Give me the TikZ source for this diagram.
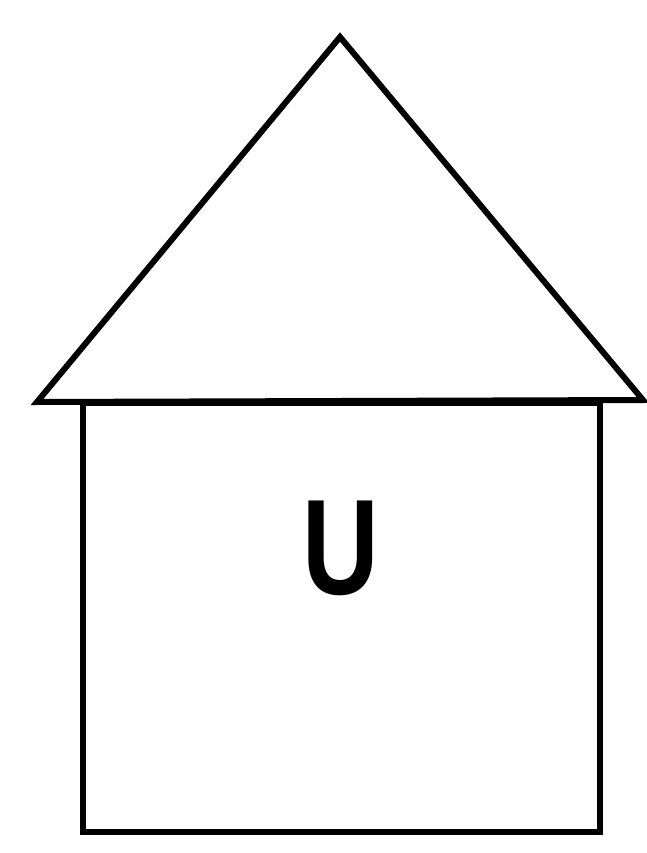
\documentclass[tikz,border=0pt]{standalone}
\usepackage{fontspec}
\setmainfont{Liberation Sans}
\begin{document}
\begin{tikzpicture}[x=1pt,y=-1pt,
  outline/.style={draw=black,line width=6pt,line join=miter}]
\useasboundingbox (0,0) rectangle (647,853);
\coordinate (apex) at (340,37);
\coordinate (bl) at (37,402);
\coordinate (br) at (643,400);
\draw[outline] (apex) -- (br) -- (bl) -- cycle;
\draw[outline] (83,403) rectangle (600,832);
\node[inner sep=0pt,xscale=0.78,font=\fontsize{136}{136}\selectfont\bfseries] (label) at (341,548) {U};
\end{tikzpicture}
\end{document}
